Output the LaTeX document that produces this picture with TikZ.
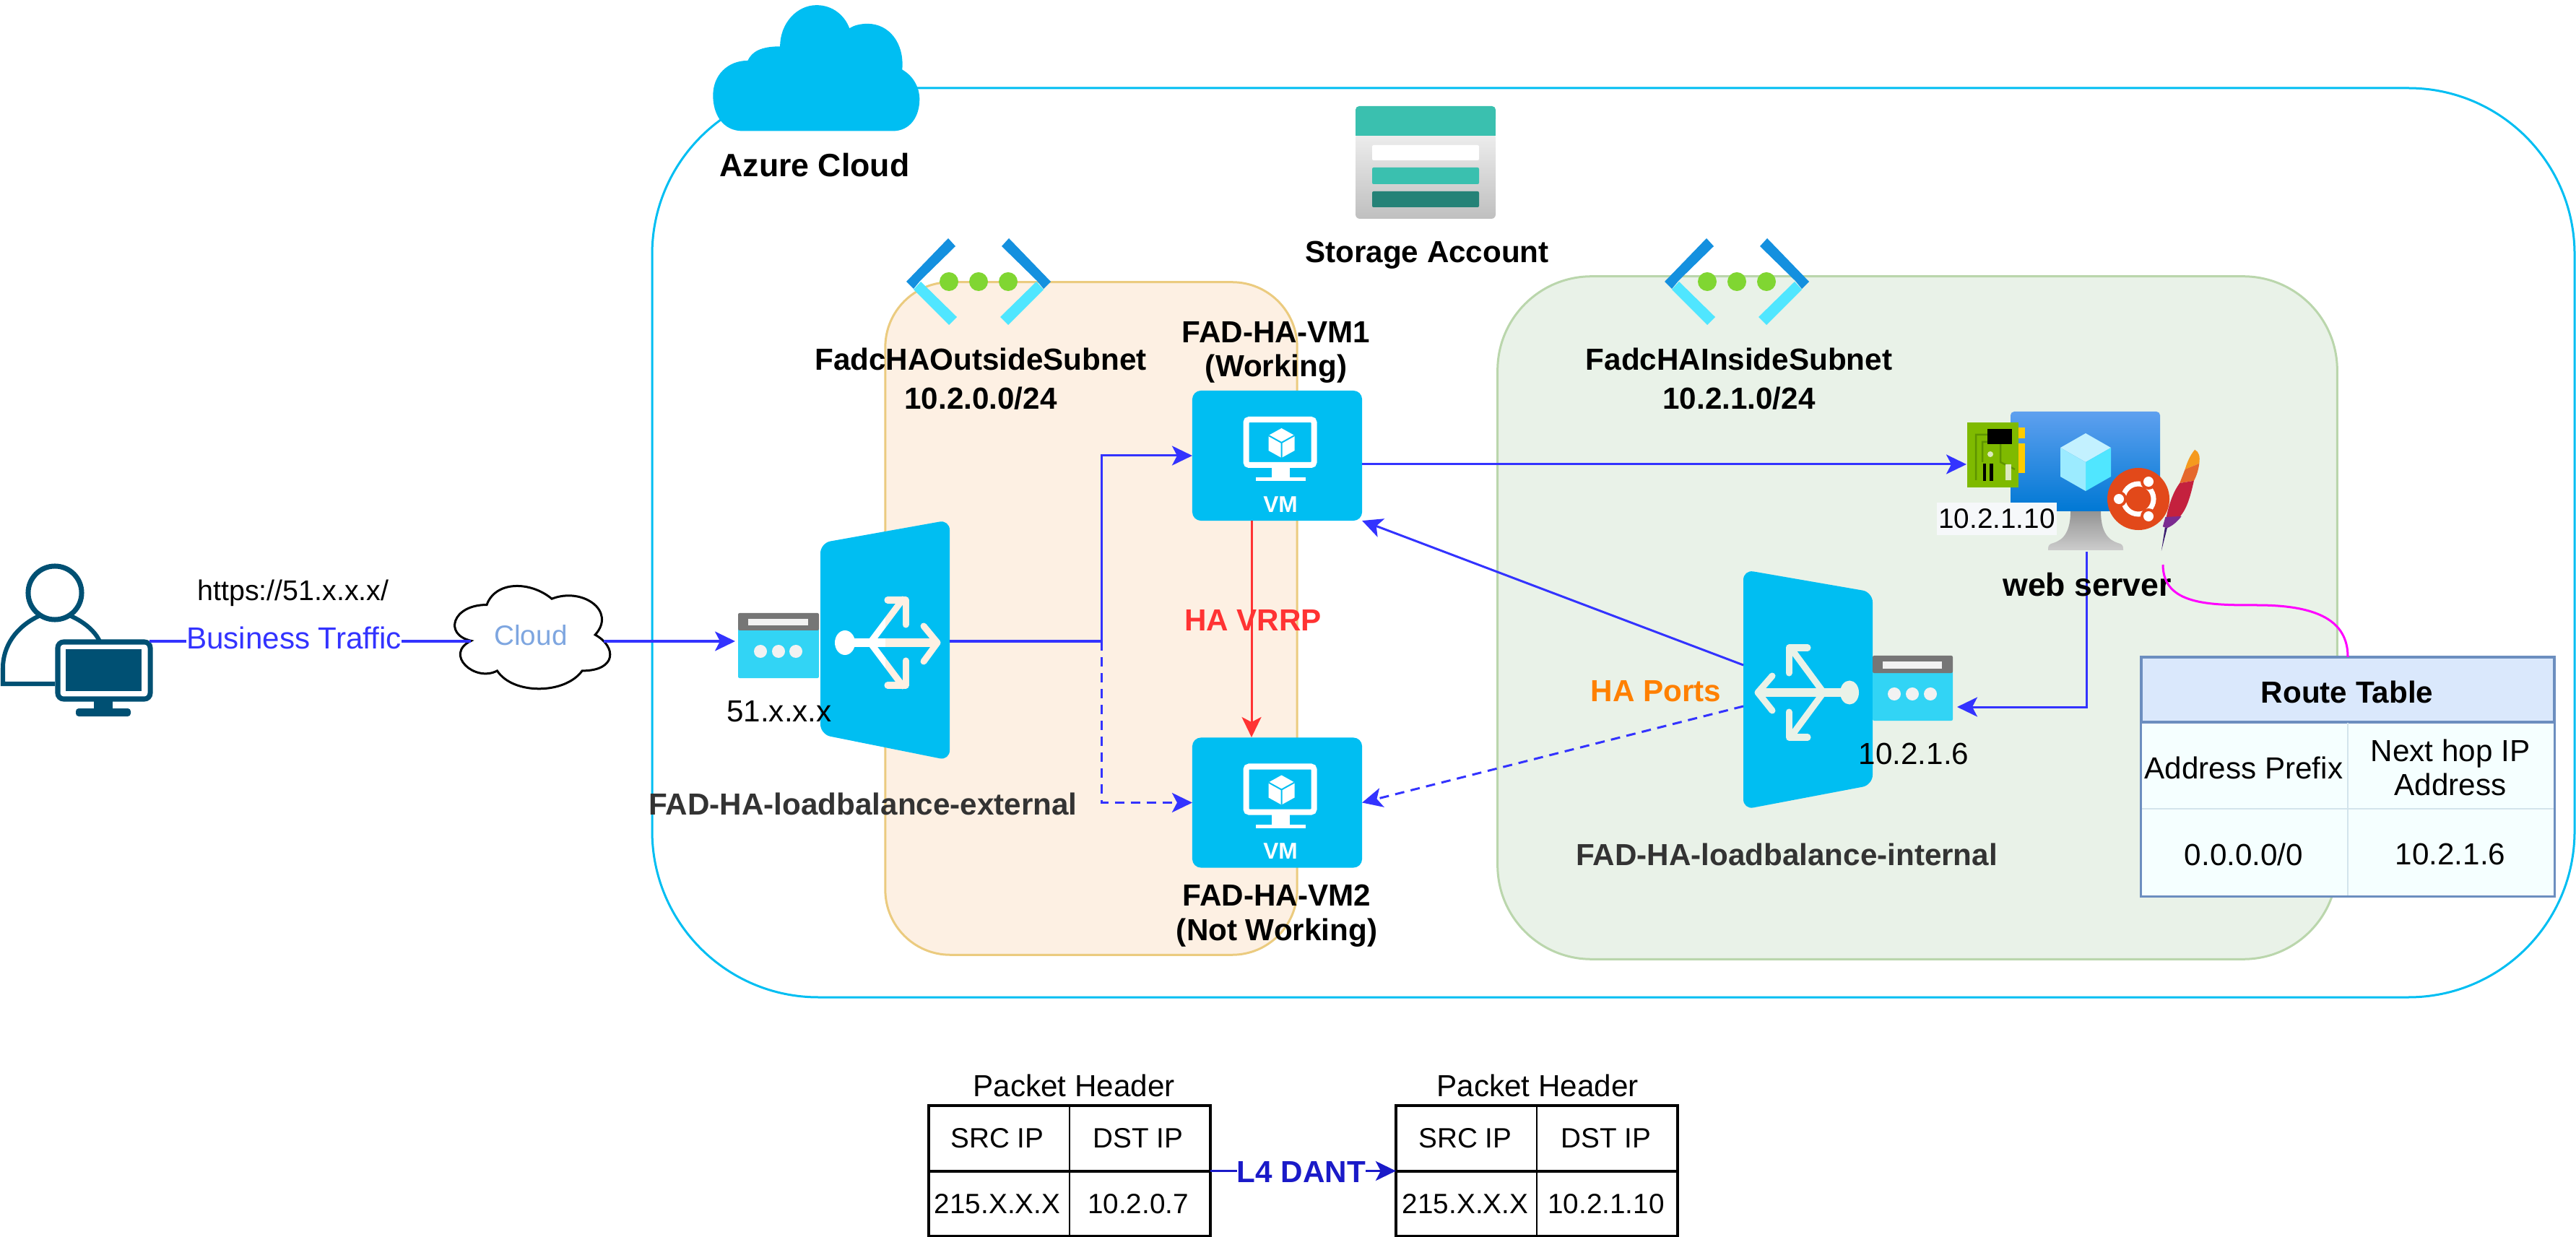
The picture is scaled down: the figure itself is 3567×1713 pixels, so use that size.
\documentclass[tikz,border=0pt]{standalone}
\usepackage{fontspec}
\setmainfont{Liberation Sans}
\usetikzlibrary{arrows.meta}
\definecolor{azure}{HTML}{00BEF2}
\definecolor{flowblue}{HTML}{3333FF}
\definecolor{hared}{HTML}{FF3333}
\definecolor{haorange}{HTML}{FF8000}
\definecolor{darktxt}{HTML}{333333}
\definecolor{orangefill}{HTML}{FDF0E3}
\definecolor{orangeline}{HTML}{EBCB7F}
\definecolor{greenfill}{HTML}{E9F2E8}
\definecolor{greenline}{HTML}{BAD6AC}
\definecolor{userblue}{HTML}{005073}
\definecolor{feip}{HTML}{32D4F5}
\definecolor{fegray}{HTML}{767676}
\definecolor{feWhite}{HTML}{F2F2F2}
\definecolor{teal}{HTML}{3AC0AF}
\definecolor{tealdark}{HTML}{258277}
\definecolor{vnetdark}{HTML}{1490DF}
\definecolor{vnetlight}{HTML}{50E6FF}
\definecolor{vnetdot}{HTML}{80D632}
\definecolor{natblue}{HTML}{1A1AC8}
\definecolor{rthead}{HTML}{DAE8FC}
\definecolor{rtline}{HTML}{6C8EBF}
\definecolor{rtbody}{HTML}{F5FFFF}
\definecolor{rtinner}{HTML}{D3E4EC}
\definecolor{magentaline}{HTML}{FF00FF}
\definecolor{cloudtext}{HTML}{7EA6E0}
\definecolor{screentop}{HTML}{5EA0EF}
\definecolor{screenbot}{HTML}{0078D4}
\definecolor{cubetop}{HTML}{C3F1FF}
\definecolor{cubeleft}{HTML}{9CEBFF}
\definecolor{nicgreen}{HTML}{7FBA00}
\definecolor{nictrace}{HTML}{5E9400}
\definecolor{nicgold}{HTML}{FFCC00}
\definecolor{nicpale}{HTML}{DCE9BE}
\definecolor{ubuntu}{HTML}{E2491A}
\definecolor{fa}{HTML}{F59A1E}
\definecolor{fb}{HTML}{E5682C}
\definecolor{fc}{HTML}{C4213E}
\definecolor{fd}{HTML}{7B2C90}
\definecolor{fe}{HTML}{3C1E70}
\definecolor{ipbg}{HTML}{F6F8FA}
\tikzset{
  lbl/.style={inner sep=0pt,outer sep=0pt,align=center,font=\fontsize{12}{14.2}\selectfont},
  blbl/.style={inner sep=0pt,outer sep=0pt,align=center,font=\fontsize{12}{14.2}\selectfont\bfseries},
  flow/.style={draw=flowblue,line width=0.03cm,-{Stealth[length=0.28cm,width=0.27cm,inset=0.07cm]}},
  flowdash/.style={flow,dash pattern=on 0.13cm off 0.09cm},
  vmbox/.style={draw=none,fill=azure,rounded corners=0.12cm,minimum width=2.35cm,minimum height=1.8cm,inner sep=0pt,outer sep=0pt},
  tblbox/.style={draw=black,line width=0.045cm,minimum width=3.9cm,minimum height=1.81cm,inner sep=0pt,outer sep=0pt},
  vmglyph/.pic={
    \draw[white,line width=0.08cm,rounded corners=0.04cm] (-43,-50) rectangle (51,13);
    \fill[white] (-8,15) rectangle (17,32);
    \fill[white] (-30,30) rectangle (39,35);
    \fill[white] (6,-38) -- (24,-28) -- (24,-7) -- (6,3) -- (-12,-7) -- (-12,-28) -- cycle;
    \draw[azure,line width=0.02cm] (-12,-28) -- (6,-18) -- (24,-28) (6,-18) -- (6,3);
  },
  vnetglyph/.pic={
    \foreach \s in {1,-1}{
      \fill[vnetlight] (\s*-80,0) -- (\s*-30,49) -- (\s*-41,60) -- (\s*-90,11) -- cycle;
      \fill[vnetdark] (\s*-42,-60) -- (\s*-32,-49) -- (\s*-81,-1) -- (\s*-90,10) -- (\s*-100,0) -- cycle;
    }
    \foreach \d in {-41,0,41}{ \fill[vnetdot] (\d,0) circle[radius=0.13cm]; }
  }
}
\newcommand{\extglyph}[1]{%
  \fill[#1] (1170,890) ellipse[x radius=0.14cm,y radius=0.17cm];
  \draw[#1,line width=0.11cm] (1170,890) -- (1295,890);
  \draw[#1,line width=0.09cm,line cap=round,line join=round] (1279,867) -- (1298,890) -- (1279,916);
  \draw[#1,line width=0.09cm,line cap=round] (1205,890) -- (1250,830);
  \draw[#1,line width=0.09cm,line cap=round] (1205,890) -- (1250,950);
  \draw[#1,line width=0.09cm,line cap=round,line join=round] (1229,831) -- (1254,831) -- (1254,865);
  \draw[#1,line width=0.09cm,line cap=round,line join=round] (1229,949) -- (1254,949) -- (1254,915);
}
\begin{document}
\begin{tikzpicture}[x=0.01cm,y=-0.01cm]
\useasboundingbox (0,0) rectangle (3567,1713);
% containers
\draw[azure,line width=0.03cm,rounded corners=2.3cm] (903,122) rectangle (3565,1381);
\node[draw=orangeline,fill=orangefill,line width=0.03cm,rounded corners=0.9cm,minimum width=5.7cm,minimum height=9.31cm,inner sep=0pt,outer sep=0pt] (subout) at (1511,856.5) {};
\node[draw=greenline,fill=greenfill,line width=0.03cm,rounded corners=1.3cm,minimum width=11.62cm,minimum height=9.45cm,inner sep=0pt,outer sep=0pt] (subin) at (2655,855.5) {};
% azure cloud
\begin{scope}[shift={(950,0)},x=0.00829cm,y=-0.00357cm]
  \fill[azure] (95,508) .. controls (60,508) and (45,440) .. (45,370) .. controls (45,290) and (70,235) .. (103,235) .. controls (110,200) and (125,180) .. (157,180) .. controls (157,90) and (185,20) .. (218,20) .. controls (245,20) and (265,60) .. (273,110) .. controls (280,98) and (292,92) .. (303,92) .. controls (340,92) and (365,170) .. (361,270) .. controls (380,295) and (390,340) .. (390,385) .. controls (390,450) and (375,508) .. (345,508) -- cycle;
\end{scope}
\node[blbl,font=\fontsize{12.7}{15}\selectfont\bfseries] (azlabel) at (1128,229) {Azure Cloud};
% storage account
\shade[top color=black!7,bottom color=black!25,rounded corners=0.06cm] (1877,185) rectangle (2071,303);
\fill[teal,rounded corners=0.05cm] (1877,147) rectangle (2071,170);
\fill[teal] (1877,160) rectangle (2071,188);
\fill[white,rounded corners=0.02cm] (1900,201) rectangle (2048,222);
\fill[teal,rounded corners=0.02cm] (1900,232) rectangle (2048,255);
\fill[tealdark,rounded corners=0.02cm] (1900,265) rectangle (2048,287);
\node[blbl] (storagelabel) at (1976,353) {Storage Account};
% vnet icons
\pic at (1355,390) {vnetglyph};
\pic at (2405,390) {vnetglyph};
\node[blbl,font=\fontsize{12}{15.4}\selectfont\bfseries] (outname) at (1358,525) {FadcHAOutsideSubnet\\10.2.0.0/24};
\node[blbl,font=\fontsize{12}{15.4}\selectfont\bfseries] (inname) at (2408,525) {FadcHAInsideSubnet\\10.2.1.0/24};
% VMs
\node[blbl,font=\fontsize{12}{13.6}\selectfont\bfseries] (vm1name) at (1767,488) {FAD-HA-VM1\\(Working)};
\node[vmbox] (vm1) at (1768.5,631) {};
\node[vmbox] (vm2) at (1768.5,1111.5) {};
\pic at (vm1.center) {vmglyph};
\pic at (vm2.center) {vmglyph};
\node[blbl,white,font=\fontsize{9}{10}\selectfont\bfseries] (vm1txt) at (1773,699) {VM};
\node[blbl,white,font=\fontsize{9}{10}\selectfont\bfseries] (vm2txt) at (1773,1179) {VM};
\node[blbl,font=\fontsize{12}{13.6}\selectfont\bfseries] (vm2name) at (1768,1268) {FAD-HA-VM2\\(Not Working)};
% external load balancer
\fill[azure,rounded corners=0.14cm] (1136,752) -- (1315,720) -- (1315,1053) -- (1136,1017) -- cycle;
\begin{scope}
  \clip (1100,700) rectangle (1226,1100);
  \extglyph{white}
\end{scope}
\begin{scope}
  \clip (1226,700) rectangle (1330,1100);
  \extglyph{orangefill}
\end{scope}
\coordinate (lbext) at (1315,888);
% external frontend
\fill[feip,rounded corners=0.02cm] (1022,870) rectangle (1134,939);
\fill[fegray,rounded corners=0.02cm] (1022,849) rectangle (1134,873);
\fill[feWhite] (1036,857) rectangle (1119,866);
\foreach \d in {1053,1078,1102}{ \fill[feWhite] (\d,902) circle[radius=0.09cm]; }
\coordinate (feext) at (1018,888);
\node[lbl] (extip) at (1079,985) {51.x.x.x};
\node[blbl,text=darktxt] (extname) at (1195,1113) {FAD-HA-loadbalance-external};
% internal load balancer
\fill[azure,rounded corners=0.14cm] (2414,789) -- (2593,820) -- (2593,1087) -- (2414,1121) -- cycle;
\fill[greenfill] (2561,959) ellipse[x radius=0.13cm,y radius=0.165cm];
\draw[greenfill,line width=0.11cm] (2561,959) -- (2437,959);
\draw[greenfill,line width=0.09cm,line cap=round,line join=round] (2454,936) -- (2434,959) -- (2454,984);
\draw[greenfill,line width=0.09cm,line cap=round] (2525,959) -- (2480,898);
\draw[greenfill,line width=0.09cm,line cap=round] (2525,959) -- (2480,1020);
\draw[greenfill,line width=0.09cm,line cap=round,line join=round] (2503,897) -- (2477,897) -- (2477,932);
\draw[greenfill,line width=0.09cm,line cap=round,line join=round] (2503,1021) -- (2477,1021) -- (2477,986);
% internal frontend
\fill[feip,rounded corners=0.02cm] (2593,929) rectangle (2704,998);
\fill[fegray,rounded corners=0.02cm] (2593,908) rectangle (2704,932);
\fill[feWhite] (2607,916) rectangle (2689,926);
\foreach \d in {2623,2648,2673}{ \fill[feWhite] (\d,961) circle[radius=0.09cm]; }
\node[lbl] (intip) at (2650,1044) {10.2.1.6};
\node[blbl,text=darktxt] (intname) at (2474,1183) {FAD-HA-loadbalance-internal};
\coordinate (lbintA) at (2414,921);
\coordinate (lbintB) at (2414,978);
\coordinate (feint) at (2710,979);
% web server
\shade[top color=black!42,bottom color=black!20] (2867,708) .. controls (2867,745) and (2850,750) .. (2840,753) .. controls (2836,755) and (2836,758) .. (2836,762) -- (2940,762) .. controls (2940,758) and (2940,755) .. (2936,753) .. controls (2926,750) and (2909,745) .. (2909,708) -- cycle;
\path[rounded corners=0.05cm,top color=screentop,bottom color=screenbot] (2784,570) rectangle (2991,708);
\fill[cubetop] (2888,600) -- (2923,620) -- (2888,640) -- (2853,620) -- cycle;
\fill[vnetlight] (2923,620) -- (2923,660) -- (2888,680) -- (2888,640) -- cycle;
\fill[cubeleft] (2853,620) -- (2853,660) -- (2888,680) -- (2888,640) -- cycle;
\coordinate (webbase) at (2889,764);
% NIC
\fill[nicgold] (2795,592) rectangle (2804,607);
\fill[nicgold] (2795,614) rectangle (2804,655);
\fill[nicgreen] (2724,585) rectangle (2795,675);
\draw[nictrace,line width=0.025cm] (2736,665) -- (2736,602) -- (2752,602) (2745,640) -- (2745,612) -- (2752,612) (2770,615) -- (2770,640) -- (2790,650);
\fill[black] (2752,594) rectangle (2786,615);
\fill[nicpale] (2756,629) circle[radius=0.04cm];
\fill[black] (2746,642) rectangle (2750,666);
\fill[black] (2755,642) rectangle (2760,666);
\fill[nicpale] (2777,643) rectangle (2785,665);
\coordinate (nicin) at (2723,643);
\node[lbl,fill=ipbg,minimum width=1.66cm,minimum height=0.45cm,font=\fontsize{11}{13}\selectfont] (webip) at (2765,718.5) {10.2.1.10};
% ubuntu
\fill[ubuntu] (2961,691) circle[radius=0.43cm];
\draw[white,line width=0.07cm] (2961,691) circle[radius=0.21cm];
\foreach \px/\py in {2934/691,2975/667,2975/715}{
  \fill[ubuntu] (\px,\py) circle[radius=0.11cm];
  \fill[white] (\px,\py) circle[radius=0.07cm];
}
% feather
\begin{scope}[shift={(2600,520)},x=0.00617cm,y=-0.00478cm]
  \fill[fa] (712,215) .. controls (722,222) and (724,235) .. (722,255) -- (690,272) .. controls (695,250) and (702,230) .. (712,215) -- cycle;
  \fill[fb] (690,272) -- (722,255) .. controls (720,275) and (716,290) .. (710,305) -- (678,312) -- cycle;
  \fill[fc] (678,312) -- (710,305) .. controls (702,350) and (695,385) .. (678,410) -- (646,425) .. controls (652,380) and (662,340) .. (678,312) -- cycle;
  \fill[fd] (646,410) -- (682,408) .. controls (672,425) and (662,435) .. (650,442) -- (640,438) -- cycle;
  \fill[fe] (645,440) -- (650,442) -- (637,508) -- cycle;
\end{scope}
\coordinate (feather) at (2995,782);
% user
\draw[userblue,line width=0.07cm] (76,821) ellipse[x radius=0.37cm,y radius=0.37cm];
\draw[userblue,line width=0.06cm] (76,947) -- (4,947) -- (4,925) .. controls (4,895) and (22,868) .. (54,853);
\draw[userblue,line width=0.06cm] (98,853) .. controls (118,862) and (132,875) .. (138,888);
\draw[userblue,fill=white,line width=0.07cm,rounded corners=0.08cm] (80,889) rectangle (208,968);
\fill[userblue] (91,899) rectangle (196,957);
\fill[userblue] (130,970) rectangle (156,984);
\fill[userblue,rounded corners=0.04cm] (105,981) rectangle (181,992);
\coordinate (userout) at (207,888);
% cloud
\begin{scope}[shift={(614,796)},x=0.024cm,y=-0.0166cm]
  \draw[black,fill=white,line width=0.03cm] (25,25) .. controls (5,25) and (0,50) .. (16,55) .. controls (0,66) and (18,90) .. (31,80) .. controls (40,100) and (70,100) .. (80,80) .. controls (100,80) and (100,60) .. (87.5,50) .. controls (100,30) and (80,10) .. (62.5,20) .. controls (50,5) and (30,5) .. (25,25) -- cycle;
\end{scope}
\node[lbl,text=cloudtext,font=\fontsize{11}{13}\selectfont] (cloudtxt) at (735,880) {Cloud};
\coordinate (cloudin) at (652,888);
\coordinate (cloudout) at (836,888);
\node[lbl,font=\fontsize{11.2}{13}\selectfont] (url) at (406,821) {https://51.x.x.x/};
% connectors
\draw[flowblue,line width=0.03cm] (userout) -- (cloudin);
\node[lbl,text=flowblue,fill=white] (biz) at (407,883) {Business Traffic};
\draw[flow] (cloudout) -- (feext);
\coordinate (split) at (1525,888);
\draw[flow] (lbext) -- (split) |- (vm1.west);
\draw[flowdash] (split) |- (vm2.west);
\draw[flow] (vm1.east |- nicin) -- (nicin);
\draw[flow] (webbase) |- (feint);
\draw[flow] (lbintA) -- (vm1.south east);
\draw[flowdash] (lbintB) -- (vm2.east);
\draw[hared,line width=0.03cm,-{Stealth[length=0.28cm,width=0.27cm,inset=0.07cm]}] (1733,721) -- (1733,1021);
\node[blbl,text=hared] (vrrp) at (1735,859) {HA VRRP};
\node[blbl,text=haorange] (haports) at (2293,957) {HA Ports};
\node[blbl,font=\fontsize{12.7}{15}\selectfont\bfseries] (webname) at (2890,810) {web server};
% route table
\node[draw=rtline,fill=rtbody,line width=0.03cm,minimum width=5.72cm,minimum height=3.31cm,inner sep=0pt,outer sep=0pt] (routetbl) at (3251,1075.5) {};
\fill[rthead,draw=rtline,line width=0.035cm] (2965,910) rectangle (3537,1000);
\draw[rtinner,line width=0.015cm] (2966,1120) -- (3536,1120) (3251,1001) -- (3251,1240);
\node[blbl] (rttitle) at (3250,958) {Route Table};
\node[lbl] (rtc1) at (3107,1063) {Address Prefix};
\node[lbl,font=\fontsize{12}{13.6}\selectfont] (rtc2) at (3393,1063) {Next hop IP\\Address};
\node[lbl] (rtv1) at (3107,1183) {0.0.0.0/0};
\node[lbl] (rtv2) at (3393,1183) {10.2.1.6};
\draw[magentaline,line width=0.03cm] (feather) .. controls (2995,838) and (3060,838) .. (3125,838) .. controls (3210,838) and (3251,860) .. (routetbl.north);
% packet headers
\node[lbl] (ph1) at (1487,1503) {Packet Header};
\node[lbl] (ph2) at (2129,1503) {Packet Header};
\node[tblbox] (hdrA) at (1481,1621.5) {};
\node[tblbox] (hdrB) at (2128,1621.5) {};
\draw[line width=0.02cm] (hdrA.north) -- (hdrA.south);
\draw[line width=0.02cm] (hdrB.north) -- (hdrB.south);
\draw[line width=0.04cm] (hdrA.west) -- (hdrA.east);
\draw[line width=0.04cm] (hdrB.west) -- (hdrB.east);
\foreach \nm/\cx/\cy/\tx in {a/1381/1576/SRC IP,b/1576/1576/DST IP,c/1381/1667/215.X.X.X,d/1576/1667/10.2.0.7,e/2029/1576/SRC IP,f/2224/1576/DST IP,g/2029/1667/215.X.X.X,h/2224/1667/10.2.1.10}{
  \node[lbl,font=\fontsize{11}{13}\selectfont] (cell\nm) at (\cx,\cy) {\tx};
}
\draw[natblue,line width=0.035cm,-{Stealth[length=0.28cm,width=0.27cm,inset=0.07cm]}] (hdrA.east) -- (hdrB.west);
\node[blbl,text=natblue,fill=white] (nat) at (1802,1623) {L4 DANT};
\end{tikzpicture}
\end{document}
